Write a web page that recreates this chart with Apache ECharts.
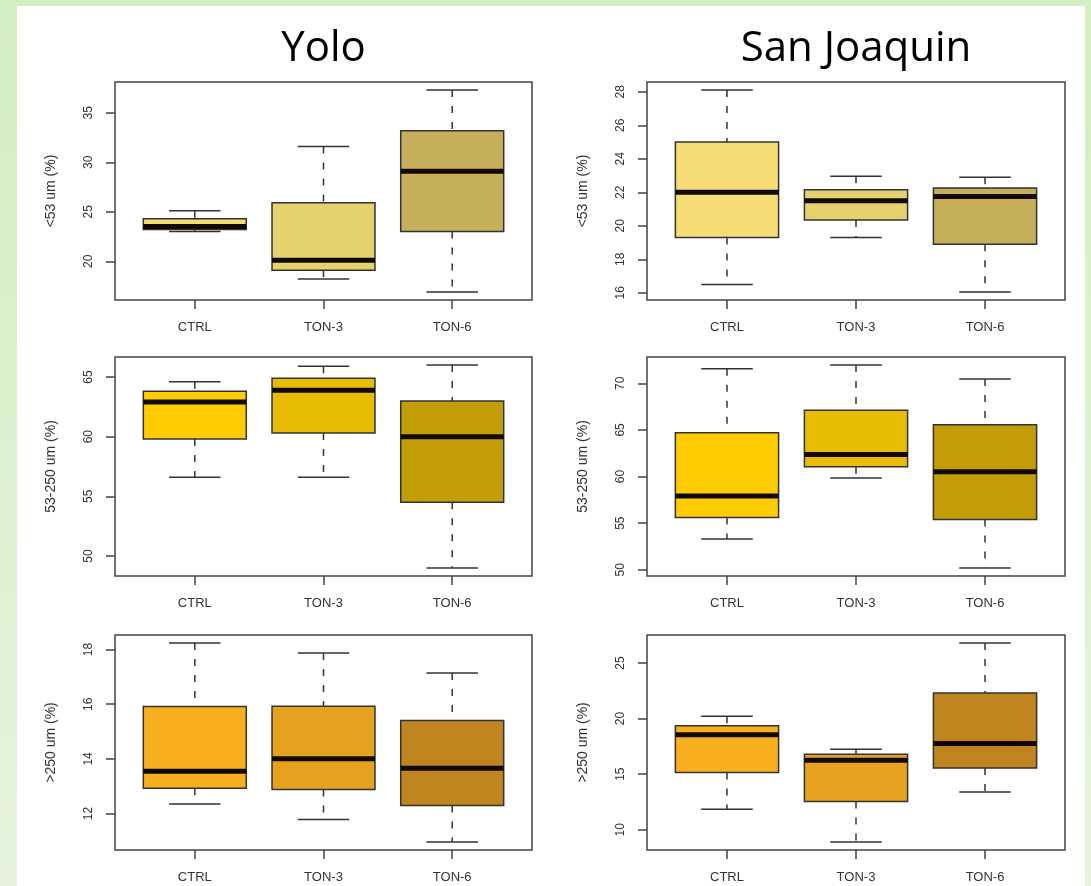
<!DOCTYPE html>
<html>
<head>
<meta charset="utf-8">
<title>Soil particle size fractions – Yolo and San Joaquin</title>
<script src="https://cdn.jsdelivr.net/npm/echarts@6/dist/echarts.min.js"></script>
<style>
  html, body { margin: 0; padding: 0; }
  body {
    width: 1091px; height: 886px; overflow: hidden; position: relative;
    background: linear-gradient(to bottom, #d3eec1 0%, #dcf1cf 50%, #e6f4dd 100%);
  }
  #panel {
    position: absolute; left: 17px; top: 6px; width: 1068px; height: 880px;
    background: #ffffff;
  }
  #chart { position: absolute; left: 0; top: 0; width: 1091px; height: 886px; }
</style>
</head>
<body>
<div id="panel"></div>
<div id="chart"></div>
<script>
// Treatments along the x axis
const categories = ['CTRL', 'TON-3', 'TON-6'];

// Five-number summaries per treatment: [lower whisker, Q1, median, Q3, upper whisker]
const yoloFine   = [[23.0, 23.2, 23.5, 24.3, 25.1], [18.2, 19.1, 20.1, 25.9, 31.6], [16.9, 23.0, 29.1, 33.2, 37.3]];
const yoloMid    = [[56.6, 59.8, 62.9, 63.8, 64.6], [56.6, 60.3, 63.9, 64.9, 65.9], [49.0, 54.5, 60.0, 63.0, 66.0]];
const yoloCoarse = [[12.35, 12.93, 13.55, 15.92, 18.24], [11.78, 12.88, 14.01, 15.93, 17.87], [10.96, 12.30, 13.66, 15.40, 17.14]];
const sjFine     = [[16.5, 19.3, 22.0, 25.0, 28.1], [19.3, 20.35, 21.5, 22.15, 22.95], [16.05, 18.9, 21.75, 22.25, 22.9]];
const sjMid      = [[53.3, 55.6, 57.9, 64.7, 71.55], [59.85, 61.05, 62.35, 67.1, 71.95], [50.2, 55.4, 60.5, 65.55, 70.45]];
const sjCoarse   = [[11.85, 15.15, 18.55, 19.35, 20.2], [8.9, 12.55, 16.25, 16.8, 17.25], [13.4, 15.55, 17.75, 22.3, 26.8]];

// Labelled y-axis ticks per panel
const yoloFineTicks   = [20, 25, 30, 35];
const yoloMidTicks    = [50, 55, 60, 65];
const yoloCoarseTicks = [12, 14, 16, 18];
const sjFineTicks     = [16, 18, 20, 22, 24, 26, 28];
const sjMidTicks      = [50, 55, 60, 65, 70];
const sjCoarseTicks   = [10, 15, 20, 25];

// Axis titles per size fraction and the site names above each column
const fractionNames = ['<53 um (%)', '53-250 um (%)', '>250 um (%)'];
const siteNames = ['Yolo', 'San Joaquin'];

// Fill colours per size fraction (CTRL, TON-3, TON-6)
const fineColors   = ['#F6DC74', '#E5D26F', '#C6AF5B'];
const midColors    = ['#FFCC02', '#E8BB04', '#C29D08'];
const coarseColors = ['#F8AF1F', '#E6A21F', '#C0851F'];

const panels = [
  { data: yoloFine,   ticks: yoloFineTicks,   name: fractionNames[0], colors: fineColors,   col: 0, row: 0 },
  { data: sjFine,     ticks: sjFineTicks,     name: fractionNames[0], colors: fineColors,   col: 1, row: 0 },
  { data: yoloMid,    ticks: yoloMidTicks,    name: fractionNames[1], colors: midColors,    col: 0, row: 1 },
  { data: sjMid,      ticks: sjMidTicks,      name: fractionNames[1], colors: midColors,    col: 1, row: 1 },
  { data: yoloCoarse, ticks: yoloCoarseTicks, name: fractionNames[2], colors: coarseColors, col: 0, row: 2 },
  { data: sjCoarse,   ticks: sjCoarseTicks,   name: fractionNames[2], colors: coarseColors, col: 1, row: 2 }
];

// Plot frame geometry
const colLeft  = [115, 647];
const colWidth = [417, 418];
const rowTop    = [82, 357, 635];
const rowHeight = [218, 219, 215];

const AXIS_FONT = "'Liberation Sans', Arial, Helvetica, sans-serif";
const TEXT_COLOR = '#333';

// R-style axis limits: data range padded by 4% on each side
function paddedRange(rows) {
  let lo = Infinity, hi = -Infinity;
  rows.forEach(r => { lo = Math.min(lo, r[0]); hi = Math.max(hi, r[4]); });
  const pad = (hi - lo) * 0.04;
  return [lo - pad, hi + pad];
}

function makeRenderer(colors) {
  return function (params, api) {
    const x = api.value(0);
    const lo = api.value(1), q1 = api.value(2), med = api.value(3), q3 = api.value(4), hi = api.value(5);
    const half = 0.4, staple = 0.2;
    const boxTL = api.coord([x - half, q3]);
    const boxBR = api.coord([x + half, q1]);
    const cTop = api.coord([x, hi]);
    const cQ3 = api.coord([x, q3]);
    const cQ1 = api.coord([x, q1]);
    const cBot = api.coord([x, lo]);
    const sL = api.coord([x - staple, hi])[0];
    const sR = api.coord([x + staple, hi])[0];
    const mL = api.coord([x - half, med]);
    const mR = api.coord([x + half, med]);
    const whisker = { stroke: '#333', lineWidth: 1.5, lineDash: [7, 9] };
    const solid = { stroke: '#333', lineWidth: 1.5 };
    return {
      type: 'group',
      children: [
        { type: 'line', shape: { x1: cTop[0], y1: cTop[1], x2: cQ3[0], y2: cQ3[1] }, style: whisker },
        { type: 'line', shape: { x1: cQ1[0], y1: cQ1[1], x2: cBot[0], y2: cBot[1] }, style: whisker },
        { type: 'line', shape: { x1: sL, y1: cTop[1], x2: sR, y2: cTop[1] }, style: solid },
        { type: 'line', shape: { x1: sL, y1: cBot[1], x2: sR, y2: cBot[1] }, style: solid },
        { type: 'rect',
          shape: { x: boxTL[0], y: boxTL[1], width: boxBR[0] - boxTL[0], height: boxBR[1] - boxTL[1] },
          style: { fill: colors[params.dataIndex], stroke: '#333', lineWidth: 1.5 } },
        { type: 'line', shape: { x1: mL[0], y1: mL[1], x2: mR[0], y2: mR[1] },
          style: { stroke: '#120a00', lineWidth: 5 } }
      ]
    };
  };
}

const grid = [], xAxis = [], yAxis = [], series = [];
panels.forEach((p, i) => {
  grid.push({
    left: colLeft[p.col], top: rowTop[p.row], width: colWidth[p.col], height: rowHeight[p.row],
    show: true, borderColor: '#444', borderWidth: 1.5, backgroundColor: 'transparent'
  });
  xAxis.push({
    gridIndex: i, type: 'value', min: 0.38, max: 3.62,
    axisLine: { show: false },
    splitLine: { show: false },
    axisTick: { show: true, customValues: [1, 2, 3], length: 9, lineStyle: { color: '#444', width: 1.5 } },
    axisLabel: {
      customValues: [1, 2, 3], formatter: v => categories[Math.round(v) - 1],
      margin: 21, fontSize: 13, color: TEXT_COLOR, fontFamily: AXIS_FONT
    }
  });
  const [ymin, ymax] = paddedRange(p.data);
  yAxis.push({
    gridIndex: i, type: 'value', min: ymin, max: ymax,
    name: p.name, nameLocation: 'middle', nameRotate: 90, nameGap: 57,
    nameTextStyle: { fontSize: 14, color: TEXT_COLOR, fontFamily: AXIS_FONT },
    axisLine: { show: false },
    splitLine: { show: false },
    axisTick: { show: true, customValues: p.ticks, length: 9, lineStyle: { color: '#444', width: 1.5 } },
    axisLabel: {
      customValues: p.ticks, rotate: 90, margin: 20,
      fontSize: 12, color: TEXT_COLOR, fontFamily: AXIS_FONT
    }
  });
  series.push({
    type: 'custom', xAxisIndex: i, yAxisIndex: i,
    renderItem: makeRenderer(p.colors),
    encode: { x: 0, y: [1, 2, 3, 4, 5] },
    data: p.data.map((r, k) => [k + 1].concat(r)),
    clip: false, silent: true
  });
});

const chart = echarts.init(document.getElementById('chart'), null, { renderer: 'canvas' });
chart.setOption({
  backgroundColor: 'transparent',
  animation: false,
  grid, xAxis, yAxis, series,
  graphic: siteNames.map((t, k) => ({
    type: 'text',
    x: colLeft[k] + colWidth[k] / 2,
    y: 49,
    style: {
      text: t, fontSize: 42, fontFamily: "'Open Sans', 'Noto Sans', sans-serif",
      fill: '#000', align: 'center', verticalAlign: 'middle'
    }
  }))
});
</script>
</body>
</html>
